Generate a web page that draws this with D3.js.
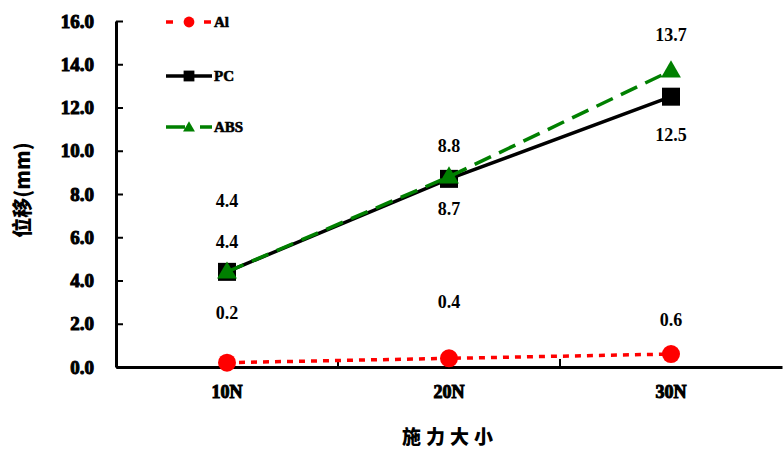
<!DOCTYPE html>
<html><head><meta charset="utf-8">
<script src="https://cdn.jsdelivr.net/npm/d3@7"></script>
<style>body{margin:0;background:#fff}svg{display:block}</style>
</head><body>
<svg id="c" width="784" height="451"></svg>
<script>
const categories = ["10N", "20N", "30N"];
const alValues = [0.2, 0.4, 0.6];
const pcValues = [4.4, 8.7, 12.5];
const absValues = [4.4, 8.8, 13.7];
const yTicks = [0, 2, 4, 6, 8, 10, 12, 14, 16];
const seriesNames = ["Al", "PC", "ABS"];
const yTitle = "位移(mm)";
const xTitle = "施力大小";

const svg = d3.select("#c");
const serif = "'Liberation Serif', 'Times New Roman', serif";
const cjk = "'Noto Sans CJK SC', sans-serif";

const x = d3.scaleBand().domain(categories).range([116, 782]);
const y = d3.scaleLinear().domain([0, 16]).range([367, 21]);
const cx = c => x(c) + x.bandwidth() / 2;

// y axis
const yAxis = svg.append("g").attr("transform", "translate(116,0)")
  .call(d3.axisLeft(y).tickValues(yTicks).tickFormat(d3.format(".1f")).tickSizeInner(-7).tickSizeOuter(0).tickPadding(22));
yAxis.select(".domain").attr("stroke", "#000").attr("stroke-width", 3);
yAxis.selectAll(".tick line").attr("stroke", "#000").attr("stroke-width", 2);
yAxis.selectAll(".tick text").attr("font-family", serif).attr("font-weight", "bold")
  .attr("font-size", 19).attr("fill", "#000").style("stroke", "#000").style("stroke-width", 1);

// x axis
const xAxis = svg.append("g").attr("transform", "translate(0,367)")
  .call(d3.axisBottom(x).tickSize(0).tickPadding(18));
xAxis.select(".domain").attr("stroke", "#000").attr("stroke-width", 3);
xAxis.selectAll(".tick text").attr("font-family", serif).attr("font-weight", "bold")
  .attr("font-size", 18).attr("fill", "#000").style("stroke", "#000").style("stroke-width", 1);
// boundary ticks (inward)
svg.append("g").selectAll("line").data(categories.slice(1)).join("line")
  .attr("x1", d => x(d)).attr("x2", d => x(d)).attr("y1", 367).attr("y2", 359)
  .attr("stroke", "#000").attr("stroke-width", 2);

// titles
svg.append("text").attr("transform", "translate(30,190) rotate(-90)")
  .attr("text-anchor", "middle").attr("font-family", cjk).attr("font-weight", 900)
  .attr("font-size", 20).text(yTitle);
svg.append("text").attr("x", 450).attr("y", 444).attr("text-anchor", "middle")
  .attr("font-family", cjk).attr("font-weight", 900).attr("font-size", 19)
  .attr("letter-spacing", 5).text(xTitle);

const line = d3.line().x((d, i) => cx(categories[i])).y(d => y(d));

const series = [
  {name: seriesNames[0], values: alValues, color: "#ff0000", dash: "6,6", legendDash: "7,31", marker: "circle"},
  {name: seriesNames[1], values: pcValues, color: "#000000", dash: null, legendDash: null, marker: "square"},
  {name: seriesNames[2], values: absValues, color: "#008000", dash: "18,9", legendDash: "19,15", marker: "triangle"}
];

function drawMarker(g, type, color, px, py, k) {
  if (type === "circle") {
    g.append("circle").attr("cx", px).attr("cy", py).attr("r", 9 * k).attr("fill", color);
  } else if (type === "square") {
    g.append("rect").attr("x", px - 9 * k).attr("y", py - 9 * k).attr("width", 18 * k).attr("height", 18 * k).attr("fill", color);
  } else {
    g.append("path").attr("d", d3.symbol(d3.symbolTriangle, 170 * k * k)()).attr("transform", `translate(${px},${py + 1})`).attr("fill", color);
  }
}

series.forEach(s => {
  const g = svg.append("g");
  g.append("path").datum(s.values).attr("d", line).attr("fill", "none")
    .attr("stroke", s.color).attr("stroke-width", 3.5).attr("stroke-dasharray", s.dash);
  s.values.forEach((v, i) => drawMarker(g, s.marker, s.color, cx(categories[i]), y(v), 1));
});

// data labels
const labelOffsets = {Al: [-44, -50, -28], PC: [-24, 36, 44], ABS: [-65, -25, -30]};
series.forEach(s => {
  svg.append("g").selectAll("text").data(s.values).join("text")
    .attr("x", (d, i) => cx(categories[i]))
    .attr("y", (d, i) => y(d) + labelOffsets[s.name][i])
    .attr("text-anchor", "middle").attr("font-family", serif).attr("font-weight", "bold")
    .attr("font-size", 18).attr("fill", "#000")
    .text(d => d3.format(".1f")(d));
});

// legend
const legendY = [22, 76, 127];
series.forEach((s, i) => {
  const g = svg.append("g");
  g.append("line").attr("x1", 166).attr("x2", 212).attr("y1", legendY[i]).attr("y2", legendY[i])
    .attr("stroke", s.color).attr("stroke-width", 3.5).attr("stroke-dasharray", s.legendDash);
  drawMarker(g, s.marker, s.color, 189, legendY[i], 0.6);
  g.append("text").attr("x", 214).attr("y", legendY[i] + 5).attr("font-family", serif)
    .attr("font-weight", "bold").attr("font-size", 15).attr("fill", "#000")
    .style("stroke", "#000").style("stroke-width", 0.6).text(s.name);
});
</script>
</body></html>
